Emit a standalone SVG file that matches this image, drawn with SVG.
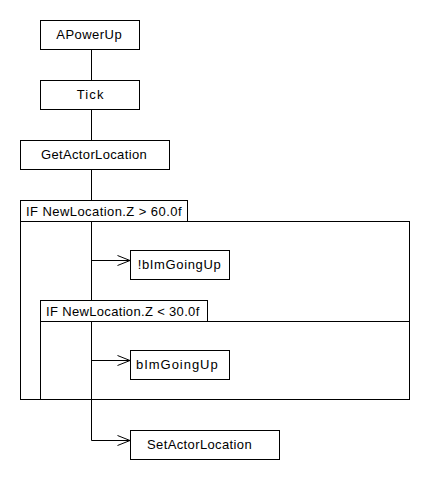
<svg xmlns="http://www.w3.org/2000/svg" width="430" height="480" viewBox="0 0 430 480">
  <style>
    .box { fill: #fff; stroke: #000; stroke-width: 1; }
    .frame { fill: none; stroke: #000; stroke-width: 1; }
    .lbl { font-family: "Liberation Sans", Arial, sans-serif; font-size: 13px; fill: #000; }
    .wire { fill: none; stroke: #000; stroke-width: 1; }
  </style>
  <defs>
    <marker id="open" markerWidth="16" markerHeight="12" refX="13" refY="5.5" orient="auto" markerUnits="userSpaceOnUse">
      <path d="M0.5,0.5 L13,5.5 L0.5,10.5" fill="none" stroke="#000" stroke-width="1"/>
    </marker>
  </defs>
  <rect width="430" height="480" fill="#fff"/>

  <!-- connectors: main sequence line and calls branching off it -->
  <g id="connectors">
    <path class="wire" d="M91.5,49.5 V440.5"/>
    <path class="wire" d="M91.5,260.5 H130" marker-end="url(#open)"/>
    <path class="wire" d="M91.5,360.5 H130" marker-end="url(#open)"/>
    <path class="wire" d="M91.5,440.5 H130" marker-end="url(#open)"/>
  </g>

  <!-- condition frames (tabs hide the sequence line behind their labels) -->
  <g id="if-high">
    <rect class="frame" x="20.5" y="221.5" width="389" height="178"/>
    <rect class="box" x="20.5" y="200.5" width="167" height="21"/>
    <text class="lbl" x="26" y="216" textLength="155.5" lengthAdjust="spacing">IF NewLocation.Z &gt; 60.0f</text>
  </g>
  <g id="if-low">
    <rect class="frame" x="40.5" y="321.5" width="369" height="78"/>
    <rect class="box" x="40.5" y="300.5" width="167" height="21"/>
    <text class="lbl" x="46" y="316" textLength="153.3" lengthAdjust="spacing">IF NewLocation.Z &lt; 30.0f</text>
  </g>

  <!-- call nodes -->
  <g id="apowerup">
    <rect class="box" x="40.5" y="20.5" width="99" height="29"/>
    <text class="lbl" x="56.3" y="39" textLength="65.4" lengthAdjust="spacing">APowerUp</text>
  </g>
  <g id="tick">
    <rect class="box" x="40.5" y="80.5" width="99" height="29"/>
    <text class="lbl" x="76.7" y="99" textLength="26.7" lengthAdjust="spacing">Tick</text>
  </g>
  <g id="getactorlocation">
    <rect class="box" x="20.5" y="140.5" width="149" height="29"/>
    <text class="lbl" x="41" y="159" textLength="105.7" lengthAdjust="spacing">GetActorLocation</text>
  </g>
  <g id="not-going-up">
    <rect class="box" x="130.5" y="250.5" width="99" height="29"/>
    <text class="lbl" x="137.7" y="269" textLength="83" lengthAdjust="spacing">!bImGoingUp</text>
  </g>
  <g id="going-up">
    <rect class="box" x="130.5" y="350.5" width="99" height="29"/>
    <text class="lbl" x="136" y="369" textLength="81.7" lengthAdjust="spacing">bImGoingUp</text>
  </g>
  <g id="setactorlocation">
    <rect class="box" x="130.5" y="430.5" width="149" height="29"/>
    <text class="lbl" x="147" y="449" textLength="104.7" lengthAdjust="spacing">SetActorLocation</text>
  </g>
</svg>
